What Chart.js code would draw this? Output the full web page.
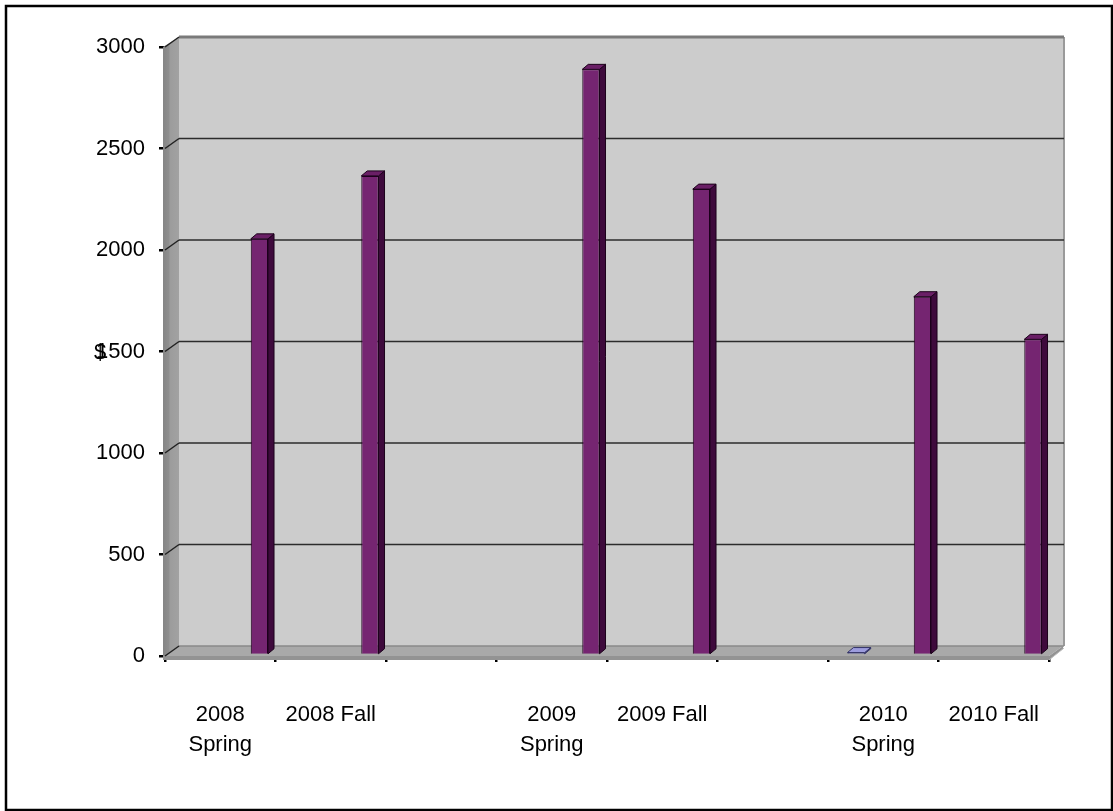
<!DOCTYPE html>
<html>
<head>
<meta charset="utf-8">
<script src="https://cdn.jsdelivr.net/npm/chart.js@4/dist/chart.umd.min.js"></script>
<style>
  html, body { margin: 0; padding: 0; background: #fff; }
  #wrap { width: 1113px; height: 811px; }
</style>
</head>
<body>
<div id="wrap"><canvas id="chart" width="1113" height="811"></canvas></div>
<script>
// categories (blank slots are empty categories in the original sheet)
const categories = [
  ['2008', 'Spring'], '2008 Fall', '',
  ['2009', 'Spring'], '2009 Fall', '',
  ['2010', 'Spring'], '2010 Fall'
];
// series values ($)
const seriesLow = [null, null, null, null, null, null, 12, null];
const seriesMid = [null, null, null, null, null, null, null, null];
const seriesMain = [2050, 2360, null, 2885, 2295, null, 1765, 1555];
const yTicks = [0, 500, 1000, 1500, 2000, 2500, 3000];

const FONT = '"Liberation Sans", Arial, sans-serif';
const DEPTH = {x: 14, y: -10};   // wall depth
const BAR_DEPTH = {x: 6, y: -5}; // bar depth
const BAR_SHIFT = {x: 6, y: -1}; // bars stand a little way into the floor

// draws the excel-like 3d box: side wall, back wall, floor, gridlines
const box3d = {
  id: 'box3d',
  beforeDatasetsDraw(chart) {
    const {ctx, chartArea: a, scales: {y}} = chart;
    const dx = DEPTH.x, dy = DEPTH.y;
    ctx.save();
    // back wall
    ctx.fillStyle = '#cccccc';
    ctx.fillRect(a.left + dx, a.top + dy, a.right - a.left, a.bottom - a.top);
    // left wall
    const g = ctx.createLinearGradient(a.left - 2, 0, a.left + dx, 0);
    g.addColorStop(0, '#858585');
    g.addColorStop(0.35, '#8e8e8e');
    g.addColorStop(0.45, '#9c9c9c');
    g.addColorStop(1, '#a2a2a2');
    ctx.fillStyle = g;
    ctx.beginPath();
    ctx.moveTo(a.left - 2, a.top);
    ctx.lineTo(a.left + dx, a.top + dy);
    ctx.lineTo(a.left + dx, a.bottom + dy);
    ctx.lineTo(a.left - 2, a.bottom + 4);
    ctx.closePath();
    ctx.fill();
    // floor
    ctx.fillStyle = '#a9a9a9';
    ctx.beginPath();
    ctx.moveTo(a.left, a.bottom);
    ctx.lineTo(a.right, a.bottom);
    ctx.lineTo(a.right + dx, a.bottom + dy);
    ctx.lineTo(a.left + dx, a.bottom + dy);
    ctx.closePath();
    ctx.fill();
    // floor slab front + side
    ctx.fillStyle = '#939393';
    ctx.beginPath();
    ctx.moveTo(a.left - 2, a.bottom);
    ctx.lineTo(a.right, a.bottom);
    ctx.lineTo(a.right + dx, a.bottom + dy);
    ctx.lineTo(a.right + dx, a.bottom + dy + 3);
    ctx.lineTo(a.right, a.bottom + 4);
    ctx.lineTo(a.left - 2, a.bottom + 4);
    ctx.closePath();
    ctx.fill();
    ctx.strokeStyle = '#bdbdbd';
    ctx.lineWidth = 1;
    ctx.beginPath();
    ctx.moveTo(a.right, a.bottom + 4);
    ctx.lineTo(a.right + dx + 1, a.bottom + dy + 2);
    ctx.stroke();
    // right edge of back wall
    ctx.strokeStyle = '#9a9a9a';
    ctx.lineWidth = 2;
    ctx.beginPath();
    ctx.moveTo(a.right + dx + 1, a.top + dy);
    ctx.lineTo(a.right + dx + 1, a.bottom + dy);
    ctx.stroke();
    // gridlines on back wall + connectors on side wall
    yTicks.forEach(v => {
      const py = y.getPixelForValue(v);
      const top = v === yTicks[yTicks.length - 1];
      ctx.strokeStyle = top ? '#7a7a7a' : (v === 0 ? '#8a8a8a' : '#2b2b2b');
      ctx.lineWidth = top ? 3 : 1.5;
      ctx.beginPath();
      ctx.moveTo(a.left + dx, py + dy);
      ctx.lineTo(a.right + dx + 1, py + dy);
      ctx.stroke();
      ctx.strokeStyle = '#222';
      ctx.lineWidth = 1.5;
      ctx.beginPath();
      ctx.moveTo(a.left, py);
      ctx.lineTo(a.left + dx, py + dy);
      ctx.stroke();
    });
    ctx.restore();
    // bars sit part way into the box
    ctx.save();
    ctx.translate(BAR_SHIFT.x, BAR_SHIFT.y);
  },
  afterDatasetsDraw(chart) {
    const {ctx} = chart;
    const bx = BAR_DEPTH.x, by = BAR_DEPTH.y;
    ctx.save();
    chart.data.datasets.forEach((ds, i) => {
      chart.getDatasetMeta(i).data.forEach((bar, j) => {
        if (ds.data[j] == null) return;
        const {x, y, base, width} = bar.getProps(['x', 'y', 'base', 'width'], true);
        const l = x - width / 2, r = x + width / 2;
        ctx.lineWidth = 1;
        ctx.strokeStyle = ds.edge;
        // side face
        ctx.fillStyle = ds.side;
        ctx.beginPath();
        ctx.moveTo(r, base);
        ctx.lineTo(r, y);
        ctx.lineTo(r + bx, y + by);
        ctx.lineTo(r + bx, base + by);
        ctx.closePath();
        ctx.fill();
        ctx.stroke();
        // top face
        ctx.fillStyle = ds.top;
        ctx.beginPath();
        ctx.moveTo(l, y);
        ctx.lineTo(r, y);
        ctx.lineTo(r + bx, y + by);
        ctx.lineTo(l + bx, y + by);
        ctx.closePath();
        ctx.fill();
        ctx.stroke();
      });
    });
    ctx.restore();
    ctx.restore(); // undo the bar shift
  },
  afterDraw(chart) {
    const {ctx, chartArea: a, width, height} = chart;
    ctx.save();
    // "$" axis title sitting over the tick labels
    ctx.fillStyle = '#000';
    ctx.font = '22px ' + FONT;
    ctx.textAlign = 'center';
    ctx.textBaseline = 'middle';
    ctx.fillText('$', a.left - 65, (a.top + a.bottom) / 2 + 1);
    // outer frame
    ctx.strokeStyle = '#000';
    ctx.lineWidth = 2.5;
    ctx.strokeRect(6, 6, width - 7, height - 7);
    ctx.restore();
  }
};

new Chart(document.getElementById('chart'), {
  type: 'bar',
  data: {
    labels: categories,
    datasets: [
      {label: 'Series 1', data: seriesLow, backgroundColor: '#7b7bb8', side: '#55558a', top: '#9c9cdd', edge: '#333366', borderColor: '#333366', borderWidth: 1},
      {label: 'Series 2', data: seriesMid, backgroundColor: '#993366', side: '#662244', top: '#aa4477', edge: '#220011', borderColor: '#220011', borderWidth: 1},
      {label: 'Series 3', data: seriesMain, backgroundColor: '#752571', side: '#3e0a3c', top: '#6a1f66', edge: '#1c021b', borderColor: '#1c021b', borderWidth: 1}
    ]
  },
  options: {
    responsive: false,
    devicePixelRatio: 1,
    animation: false,
    categoryPercentage: 0.9,
    barPercentage: 0.52,
    layout: {padding: {top: 47, right: 64, bottom: 0, left: 0}},
    plugins: {legend: {display: false}, tooltip: {enabled: false}},
    scales: {
      x: {
        offset: true,
        afterFit: s => { s.height = 811 - 656; },
        border: {display: false},
        grid: {offset: true, drawOnChartArea: false, drawTicks: true, tickLength: 6, color: '#000', lineWidth: 2.5},
        ticks: {color: '#000', padding: 38, maxRotation: 0, autoSkip: false, font: {family: FONT, size: 22, lineHeight: 1.35}}
      },
      y: {
        min: 0, max: 3000,
        afterFit: s => { s.width = 165; },
        afterBuildTicks: s => { s.ticks = yTicks.map(v => ({value: v})); },
        border: {display: false},
        grid: {drawOnChartArea: false, drawTicks: true, tickLength: 6, color: '#000', lineWidth: 2.5},
        ticks: {color: '#000', padding: 14, font: {family: FONT, size: 22}, callback: v => String(v)}
      }
    }
  },
  plugins: [box3d]
});
</script>
</body>
</html>
